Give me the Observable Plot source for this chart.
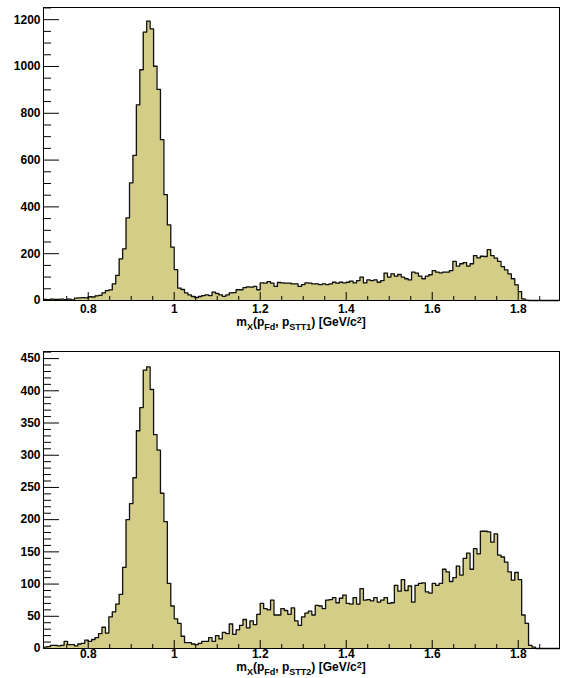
<!DOCTYPE html>
<html><head><meta charset="utf-8">
<script src="https://cdn.jsdelivr.net/npm/d3@7"></script>
<script src="https://cdn.jsdelivr.net/npm/@observablehq/plot@0.6"></script>
<style>
html,body{margin:0;padding:0;background:#fff;}
#wrap{width:562px;}
svg{display:block;}
</style></head><body><div id="wrap"></div>
<script>
// Histogram binning (GeV/c^2)
const binLo = 0.696;
const binWidth = 0.008;

// Counts per bin, panel 1 (p_STT1)
const countsSTT1 = [
  5,4,6,5,5,6,4,6,3,10,
  11,12,11,16,15,20,22,33,42,45,
  71,107,178,221,353,503,620,836,986,1147,
  1194,1161,1001,902,687,452,323,228,132,53,
  47,33,24,17,12,17,21,24,21,36,
  30,24,18,24,33,34,46,46,55,58,
  57,60,46,75,74,81,74,60,77,75,
  74,74,71,71,60,68,75,74,71,71,
  68,71,68,71,78,74,78,75,78,83,
  75,85,100,75,88,85,88,78,85,117,
  100,114,104,111,100,93,88,121,117,104,
  93,104,110,128,121,118,121,121,128,167,
  147,157,162,147,157,192,182,189,188,217,
  192,181,167,145,131,114,93,67,38,7,
  1,0,0,0,0,0,0,0,0,0
];

// Counts per bin, panel 2 (p_STT2)
const countsSTT2 = [
  2,3,5,5,4,5,11,6,6,4,
  7,8,13,11,14,17,23,33,24,49,
  57,69,84,126,200,225,265,338,374,432,
  437,402,332,308,241,197,101,66,46,39,
  19,9,9,7,6,8,11,11,17,11,
  20,15,25,23,38,22,29,36,45,32,
  43,37,53,70,62,60,75,52,52,62,
  59,53,63,43,36,49,55,58,52,67,
  66,62,75,76,79,71,78,83,70,69,
  79,69,93,75,76,74,79,72,75,79,
  70,71,98,89,107,90,97,72,98,101,
  102,88,86,101,98,101,123,119,104,110,
  128,114,140,148,123,155,147,182,182,181,
  165,178,145,142,134,119,106,118,107,52,
  39,5,2,0,0,0,0,0,0,0
];

// Axis ticks
const xTicksMajor = [0.8, 1, 1.2, 1.4, 1.6, 1.8];
const xTicksMinor = [0.75, 0.85, 0.9, 0.95, 1.05, 1.1, 1.15, 1.25, 1.3, 1.35, 1.45, 1.5, 1.55, 1.65, 1.7, 1.75, 1.85];
const yTicksMajor1 = [0, 200, 400, 600, 800, 1000, 1200];
const yTicksMinor1 = [50,100,150,250,300,350,450,500,550,650,700,750,850,900,950,1050,1100,1150,1250];
const yTicksMajor2 = [0, 50, 100, 150, 200, 250, 300, 350, 400, 450];
const yTicksMinor2 = [];
for (let v = 10; v <= 460; v += 10) if (v % 50 !== 0) yTicksMinor2.push(v);
const yMax1 = 1252;
const yMax2 = 461;
const titleSub1 = "STT1";
const titleSub2 = "STT2";

const FONT = "'Liberation Sans', Arial, Helvetica, sans-serif";
const FILL = "#d3cd88";

function panel({counts, yMax, yMajor, yMinor, height, marginTop, marginBottom, labelDy, titleY, sub}) {
  const W = 562, mL = 43, mR = 3, mB = marginBottom;
  const plotW = W - mL - mR, plotH = height - marginTop - mB;
  const xHi = binLo + counts.length * binWidth;
  const steps = counts.map((v, i) => ({x: binLo + i * binWidth, v}));
  steps.push({x: xHi, v: counts[counts.length - 1]});
  const chart = Plot.plot({
    width: W, height, marginLeft: mL, marginRight: mR, marginTop, marginBottom: mB,
    x: {domain: [binLo, xHi], axis: null},
    y: {domain: [0, yMax], axis: null},
    style: {fontFamily: FONT, fontSize: "12px", fontWeight: "bold", background: "white", color: "#000", overflow: "visible"},
    marks: [
      Plot.areaY(steps, {x: "x", y: "v", curve: "step-after", fill: FILL}),
      Plot.line(steps, {x: "x", y: "v", curve: "step-after", stroke: "#111", strokeWidth: 1.3}),
      Plot.tickY(yMajor, {y: d => d, insetRight: plotW - 16, stroke: "#000"}),
      Plot.tickY(yMinor, {y: d => d, insetRight: plotW - 8, stroke: "#000"}),
      Plot.tickX(xTicksMajor, {x: d => d, insetTop: plotH - 8, stroke: "#000"}),
      Plot.tickX(xTicksMinor, {x: d => d, insetTop: plotH - 4, stroke: "#000"}),
      Plot.text(yMajor, {y: d => d, text: d => String(d), frameAnchor: "left", textAnchor: "end", dx: -3, fill: "#000"}),
      Plot.text(xTicksMajor, {x: d => d, text: d => String(d), frameAnchor: "bottom", lineAnchor: "bottom", dy: labelDy, fill: "#000"}),
      Plot.frame({stroke: "#000", strokeWidth: 1})
    ]
  });
  const xs = chart.scale("x");
  const cx = (xs.range[0] + xs.range[1]) / 2;
  const t = d3.select(chart).append("text")
    .attr("x", cx).attr("y", titleY)
    .attr("text-anchor", "middle")
    .attr("fill", "#000")
    .style("font-family", FONT).style("font-weight", "bold").style("font-size", "12px");
  const parts = [
    ["m", 0], ["X", 1], ["(p", 0], ["Fd", 1], [", p", 0], [sub, 1], [") [GeV/c", 0], ["2", -1], ["]", 0]
  ];
  let cur = 0;
  for (const [txt, kind] of parts) {
    const target = kind === 1 ? 3.5 : kind === -1 ? -3.5 : 0;
    const ts = t.append("tspan").attr("dy", target - cur).text(txt);
    if (kind !== 0) ts.style("font-size", "9px");
    cur = target;
  }
  return chart;
}

const wrap = document.getElementById("wrap");
wrap.appendChild(panel({counts: countsSTT1, yMax: yMax1, yMajor: yTicksMajor1, yMinor: yTicksMinor1,
  height: 332, marginTop: 7, marginBottom: 32, labelDy: 12, titleY: 326, sub: titleSub1}));
wrap.appendChild(panel({counts: countsSTT2, yMax: yMax2, yMajor: yTicksMajor2, yMinor: yTicksMinor2,
  height: 346, marginTop: 19, marginBottom: 30, labelDy: 9.5, titleY: 339.2, sub: titleSub2}));
</script>
</body></html>
